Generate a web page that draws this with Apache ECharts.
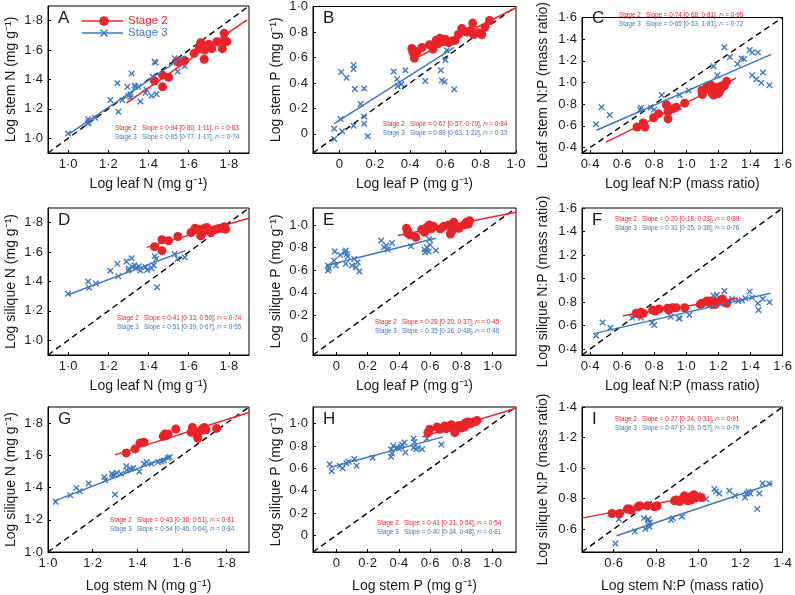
<!DOCTYPE html>
<html><head><meta charset="utf-8">
<script src="https://cdn.jsdelivr.net/npm/echarts@6/dist/echarts.min.js"></script>
<style>html,body{margin:0;padding:0;background:#fff}#c{width:795px;height:595px}</style>
</head><body><div id="c"></div><script>
// ---------- data ----------
const A2 = [[1.43,1.39],[1.47,1.43],[1.47,1.35],[1.50,1.415],[1.545,1.52],[1.58,1.53],[1.627,1.578],[1.652,1.61],[1.66,1.65],[1.665,1.635],[1.673,1.625],[1.68,1.60],[1.695,1.62],[1.70,1.64],[1.715,1.61],[1.677,1.538],[1.74,1.657],[1.767,1.61],[1.777,1.714],[1.777,1.658],[1.79,1.658],[1.66,1.62],[1.69,1.63],[1.655,1.625]];
const A3 = [[1.0,1.032],[1.10,1.13],[1.10,1.11],[1.10,1.10],[1.135,1.14],[1.21,1.26],[1.245,1.375],[1.25,1.18],[1.295,1.35],[1.30,1.29],[1.31,1.30],[1.31,1.28],[1.316,1.44],[1.33,1.36],[1.335,1.35],[1.35,1.35],[1.36,1.25],[1.385,1.31],[1.39,1.33],[1.415,1.29],[1.43,1.52],[1.435,1.515],[1.44,1.30],[1.42,1.42],[1.53,1.545],[1.545,1.455],[1.58,1.49],[1.27,1.26]];
const A2fit = [[1.29,1.24],[1.89,1.805]];
const A3fit = [[1.0,1.025],[1.58,1.56]];

const B2 = [[0.41,0.67],[0.416,0.64],[0.424,0.595],[0.44,0.647],[0.467,0.678],[0.51,0.70],[0.53,0.665],[0.548,0.735],[0.56,0.71],[0.57,0.75],[0.585,0.724],[0.60,0.742],[0.618,0.716],[0.636,0.729],[0.655,0.735],[0.674,0.78],[0.693,0.827],[0.72,0.80],[0.74,0.81],[0.755,0.87],[0.76,0.78],[0.787,0.794],[0.806,0.78],[0.825,0.838],[0.85,0.89]];
const B3 = [[-0.03,-0.04],[-0.03,0.04],[0.006,0.116],[0.01,0.485],[0.015,0.02],[0.04,0.44],[0.08,0.54],[0.08,0.51],[0.087,0.353],[0.08,0.064],[0.12,0.235],[0.14,0.137],[0.14,0.356],[0.14,0.08],[0.16,-0.018],[0.307,0.49],[0.326,0.43],[0.33,0.374],[0.35,0.39],[0.373,0.50],[0.486,0.415],[0.574,0.50],[0.58,0.42],[0.595,0.41],[0.60,0.58],[0.608,0.657],[0.65,0.35]];
const B2fit = [[0.41,0.58],[1.0,0.99]];
const B3fit = [[-0.03,0.08],[0.65,0.68]];

const C2 = [[0.693,0.59],[0.732,0.627],[0.742,0.59],[0.796,0.675],[0.827,0.711],[0.876,0.795],[0.886,0.73],[0.886,0.666],[0.919,0.759],[0.937,0.773],[0.99,0.81],[1.097,0.927],[1.10,0.89],[1.128,0.955],[1.138,0.97],[1.149,0.941],[1.155,0.975],[1.159,0.907],[1.169,0.885],[1.175,0.927],[1.19,0.955],[1.20,0.899],[1.21,0.927],[1.22,0.969],[1.237,0.969],[1.251,1.011]];
const C3 = [[0.437,0.616],[0.472,0.773],[0.523,0.70],[0.712,0.75],[0.718,0.767],[0.724,0.627],[0.78,0.767],[0.80,0.75],[0.847,0.885],[0.954,0.773],[0.958,0.885],[1.015,0.927],[1.169,1.151],[1.194,1.067],[1.237,1.325],[1.272,1.235],[1.319,1.171],[1.344,1.222],[1.36,1.216],[1.395,1.30],[1.41,1.278],[1.446,1.278],[1.41,1.067],[1.436,1.03],[1.467,0.997],[1.477,1.092],[1.518,0.975]];
const C2fit = [[0.50,0.45],[1.31,1.04]];
const C3fit = [[0.44,0.56],[1.53,1.26]];

const D2 = [[1.43,1.637],[1.467,1.684],[1.467,1.61],[1.50,1.677],[1.546,1.706],[1.612,1.733],[1.632,1.762],[1.653,1.755],[1.66,1.74],[1.668,1.73],[1.678,1.76],[1.69,1.767],[1.698,1.747],[1.711,1.733],[1.723,1.751],[1.739,1.756],[1.752,1.76],[1.767,1.762],[1.777,1.773],[1.784,1.756],[1.66,1.71],[1.665,1.745]];
const D3 = [[1.0,1.316],[1.10,1.40],[1.105,1.357],[1.138,1.386],[1.21,1.473],[1.245,1.52],[1.25,1.435],[1.29,1.536],[1.30,1.475],[1.303,1.487],[1.316,1.558],[1.32,1.50],[1.33,1.51],[1.336,1.49],[1.352,1.504],[1.36,1.475],[1.385,1.498],[1.393,1.478],[1.415,1.49],[1.426,1.51],[1.431,1.572],[1.438,1.554],[1.443,1.361],[1.53,1.587],[1.545,1.554],[1.58,1.565]];
const D2fit = [[1.39,1.632],[1.9,1.83]];
const D3fit = [[1.0,1.31],[1.583,1.61]];

const E2 = [[0.449,0.97],[0.456,0.95],[0.456,0.929],[0.47,0.912],[0.508,0.891],[0.546,0.959],[0.564,0.935],[0.579,0.979],[0.594,1.0],[0.607,0.965],[0.622,0.988],[0.665,0.965],[0.687,0.988],[0.719,1.0],[0.73,0.92],[0.741,0.95],[0.752,1.024],[0.762,0.988],[0.784,0.97],[0.816,1.0],[0.832,1.024],[0.845,1.009],[0.853,1.038],[0.735,0.935]];
const E3 = [[-0.054,0.597],[-0.054,0.641],[-0.048,0.618],[-0.015,0.685],[-0.011,0.765],[-0.004,0.641],[0.024,0.735],[0.054,0.759],[0.06,0.774],[0.067,0.744],[0.06,0.656],[0.071,0.72],[0.10,0.641],[0.114,0.70],[0.125,0.626],[0.136,0.67],[0.147,0.588],[0.287,0.862],[0.305,0.803],[0.32,0.818],[0.33,0.782],[0.356,0.841],[0.477,0.812],[0.564,0.782],[0.568,0.759],[0.579,0.803],[0.59,0.765],[0.594,0.876],[0.60,0.824],[0.637,0.774]];
const E2fit = [[0.395,0.906],[1.15,1.112]];
const E3fit = [[-0.063,0.641],[0.637,0.882]];

const F2 = [[0.687,0.704],[0.708,0.696],[0.718,0.713],[0.732,0.704],[0.79,0.733],[0.806,0.724],[0.83,0.741],[0.882,0.747],[0.892,0.733],[0.913,0.752],[0.937,0.752],[0.99,0.752],[1.087,0.781],[1.097,0.79],[1.128,0.81],[1.138,0.798],[1.149,0.81],[1.16,0.78],[1.17,0.80],[1.18,0.78],[1.19,0.798],[1.21,0.81],[1.225,0.826],[1.237,0.798],[1.251,0.79]];
const F3 = [[0.437,0.514],[0.478,0.627],[0.527,0.582],[0.663,0.667],[0.718,0.667],[0.786,0.627],[0.80,0.605],[0.903,0.676],[0.954,0.662],[0.958,0.66],[1.019,0.69],[1.169,0.855],[1.19,0.86],[1.237,0.895],[1.26,0.81],[1.286,0.826],[1.323,0.81],[1.347,0.815],[1.368,0.832],[1.395,0.889],[1.41,0.838],[1.446,0.79],[1.45,0.733],[1.477,0.826],[1.518,0.798]];
const F2fit = [[0.605,0.684],[1.323,0.832]];
const F3fit = [[0.431,0.534],[1.524,0.875]];

const G2 = [[1.35,1.615],[1.39,1.64],[1.412,1.677],[1.43,1.681],[1.516,1.718],[1.523,1.732],[1.53,1.722],[1.538,1.732],[1.572,1.763],[1.641,1.743],[1.647,1.773],[1.652,1.753],[1.667,1.726],[1.671,1.706],[1.679,1.747],[1.69,1.763],[1.70,1.773],[1.708,1.759],[1.755,1.767]];
const G3 = [[1.034,1.312],[1.10,1.353],[1.127,1.398],[1.142,1.377],[1.182,1.425],[1.252,1.466],[1.256,1.445],[1.286,1.486],[1.29,1.476],[1.30,1.48],[1.308,1.492],[1.30,1.357],[1.327,1.486],[1.35,1.533],[1.353,1.507],[1.37,1.517],[1.382,1.521],[1.409,1.50],[1.43,1.548],[1.441,1.558],[1.464,1.548],[1.493,1.558],[1.508,1.562],[1.519,1.568],[1.538,1.583],[1.545,1.589]];
const G2fit = [[1.30,1.603],[1.9,1.866]];
const G3fit = [[1.027,1.316],[1.553,1.599]];

const H2 = [[0.586,0.92],[0.597,0.95],[0.644,0.97],[0.661,0.95],[0.678,0.96],[0.693,0.98],[0.704,0.956],[0.715,0.976],[0.736,0.991],[0.747,0.956],[0.758,0.92],[0.768,0.97],[0.785,0.985],[0.80,0.962],[0.815,0.991],[0.828,1.009],[0.843,1.015],[0.858,1.0],[0.876,1.015],[0.893,1.021],[0.901,1.03],[0.82,0.97]];
const H3 = [[-0.043,0.636],[-0.03,0.577],[0.021,0.624],[0.039,0.60],[0.064,0.645],[0.077,0.66],[0.114,0.683],[0.129,0.624],[0.232,0.695],[0.35,0.772],[0.35,0.704],[0.356,0.734],[0.365,0.802],[0.386,0.784],[0.40,0.778],[0.414,0.793],[0.42,0.814],[0.436,0.831],[0.442,0.743],[0.494,0.867],[0.50,0.837],[0.494,0.784],[0.511,0.772],[0.521,0.784],[0.549,0.772],[0.579,0.867],[0.672,0.814]];
const H2fit = [[0.549,0.882],[1.15,1.139]];
const H3fit = [[-0.043,0.607],[0.682,0.882]];

const I2 = [[0.592,0.702],[0.628,0.702],[0.665,0.731],[0.676,0.731],[0.683,0.724],[0.715,0.746],[0.723,0.753],[0.759,0.753],[0.794,0.746],[0.806,0.753],[0.888,0.785],[0.896,0.79],[0.912,0.781],[0.923,0.796],[0.935,0.818],[0.943,0.803],[0.951,0.785],[0.959,0.811],[0.967,0.79],[0.98,0.825],[0.986,0.803],[1.014,0.807]];
const I3 = [[0.608,0.506],[0.624,0.665],[0.70,0.585],[0.743,0.672],[0.75,0.60],[0.762,0.659],[0.765,0.665],[0.765,0.628],[0.77,0.615],[0.772,0.644],[0.872,0.659],[0.88,0.672],[0.923,0.681],[0.98,0.796],[0.998,0.825],[1.038,0.796],[1.077,0.862],[1.085,0.846],[1.10,0.833],[1.148,0.851],[1.175,0.818],[1.222,0.807],[1.231,0.833],[1.238,0.846],[1.247,0.833],[1.29,0.833],[1.28,0.731],[1.305,0.899],[1.337,0.899]];
const I2fit = [[0.45,0.672],[1.03,0.829]];
const I3fit = [[0.613,0.556],[1.353,0.899]];

// tick label sets
const ticksN = [1.0,1.2,1.4,1.6,1.8];
const ticksP = [0,0.2,0.4,0.6,0.8,1.0];
const ticksNP = [0.4,0.6,0.8,1.0,1.2,1.4,1.6];
const ticksNPs = [0.6,0.8,1.0,1.2,1.4];

// annotation texts
const statsA = ['0·94 [0·80, 1·11]','0·83','0·95 [0·77, 1·17]','0·74'];
const statsB = ['0·67 [0·57, 0·79]','0·84','0·88 [0·63, 1·22]','0·33'];
const statsC = ['0·74 [0·68, 0·81]','0·95','0·65 [0·53, 1·81]','0·72'];
const statsD = ['0·41 [0·33, 0·50]','0·74','0·51 [0·39, 0·67]','0·55'];
const statsE = ['0·28 [0·20, 0·37]','0·45','0·35 [0·26, 0·48]','0·46'];
const statsF = ['0·20 [0·18, 0·23]','0·89','0·31 [0·25, 0·38]','0·76'];
const statsG = ['0·43 [0·36, 0·51]','0·81','0·54 [0·46, 0·64]','0·84'];
const statsH = ['0·41 [0·31, 0·54]','0·54','0·40 [0·34, 0·48]','0·81'];
const statsI = ['0·27 [0·24, 0·31]','0·91','0·47 [0·39, 0·57]','0·79'];

const legendNames = ['Stage 2','Stage 3'];

// ---------- layout / style ----------
const RED = '#e8242b', BLUE = '#3f78bd', TXT = '#1a1a1a';
const FONT = '"Liberation Sans", Arial, Helvetica, sans-serif';
const colLeft = [48, 313, 582], colW = [201, 203, 201];
const rowTop = [6, 208, 407], rowH = [147, 147, 145];
const xNameGap = [24, 24, 27], yNameGap = [30, 30, 32];
const SUP = ' (mg g\u207B\u00B9)';

const panels = [
 {L:'A',s2:A2,s3:A3,f2:A2fit,f3:A3fit,r:[0.9,1.9],xt:ticksN,yt:ticksN,xn:'Log leaf N'+SUP,yn:'Log stem N'+SUP,st:statsA,ap:[115,128]},
 {L:'B',s2:B2,s3:B3,f2:B2fit,f3:B3fit,r:[-0.15,1.0],xt:ticksP,yt:ticksP,xn:'Log leaf P'+SUP,yn:'Log stem P'+SUP,st:statsB,ap:[383,124]},
 {L:'C',s2:C2,s3:C3,f2:C2fit,f3:C3fit,r:[0.35,1.6],xt:ticksNP,yt:ticksNP,xn:'Log leaf N:P (mass ratio)',yn:'Leaf stem N:P (mass ratio)',st:statsC,ap:[619,15]},
 {L:'D',s2:D2,s3:D3,f2:D2fit,f3:D3fit,r:[0.9,1.9],xt:ticksN,yt:ticksN,xn:'Log leaf N'+SUP,yn:'Log silique N'+SUP,st:statsD,ap:[117,318]},
 {L:'E',s2:E2,s3:E3,f2:E2fit,f3:E3fit,r:[-0.15,1.15],xt:ticksP,yt:ticksP,xn:'Log leaf P'+SUP,yn:'Log silique P'+SUP,st:statsE,ap:[375,322]},
 {L:'F',s2:F2,s3:F3,f2:F2fit,f3:F3fit,r:[0.35,1.6],xt:ticksNP,yt:ticksNP,xn:'Log leaf N:P (mass ratio)',yn:'Log silique N:P (mass ratio)',st:statsF,ap:[615,219]},
 {L:'G',s2:G2,s3:G3,f2:G2fit,f3:G3fit,r:[1.0,1.9],xt:ticksN,yt:ticksN,xn:'Log stem N'+SUP,yn:'Log silique N'+SUP,st:statsG,ap:[110,520]},
 {L:'H',s2:H2,s3:H3,f2:H2fit,f3:H3fit,r:[-0.15,1.15],xt:ticksP,yt:ticksP,xn:'Log stem P'+SUP,yn:'Log silique P'+SUP,st:statsH,ap:[377,523]},
 {L:'I',s2:I2,s3:I3,f2:I2fit,f3:I3fit,r:[0.45,1.4],xt:ticksNPs,yt:ticksNPs,xn:'Log stem N:P (mass ratio)',yn:'Log silique N:P (mass ratio)',st:statsI,ap:[615,419]}
];

const fmt = v => Math.abs(v) < 1e-9 ? '0' : v.toFixed(1).replace('.', '\u00B7');
const CROSS = 'path://M0,1.5L1.5,0L5,3.5L8.5,0L10,1.5L6.5,5L10,8.5L8.5,10L5,6.5L1.5,10L0,8.5L3.5,5Z';

const grid = [], xAxis = [], yAxis = [], series = [], graphic = [];
function axisCfg(i, range, ticks, name, gap) {
  return {
    gridIndex: i, type: 'value', min: range[0], max: range[1],
    axisLine: {show: true, onZero: false, lineStyle: {color: '#000', width: 1}},
    axisTick: {show: true, inside: true, length: 3, customValues: ticks, lineStyle: {color: '#000'}},
    axisLabel: {customValues: ticks, formatter: fmt, color: TXT, fontSize: 13, fontFamily: FONT, margin: 5},
    splitLine: {show: false},
    name: name, nameLocation: 'middle', nameGap: gap,
    nameTextStyle: {fontSize: 14, color: TXT, fontFamily: FONT}
  };
}
panels.forEach((p, i) => {
  const c = i % 3, r = Math.floor(i / 3);
  grid.push({left: colLeft[c], top: rowTop[r], width: colW[c], height: rowH[r], show: true, borderColor: '#000', borderWidth: 1, backgroundColor: 'transparent'});
  xAxis.push(axisCfg(i, p.r, p.xt, p.xn, xNameGap[r]));
  yAxis.push(axisCfg(i, p.r, p.yt, p.yn, yNameGap[c]));
  series.push({type: 'line', xAxisIndex: i, yAxisIndex: i, data: [[p.r[0], p.r[0]], [p.r[1], p.r[1]]], symbol: 'none', silent: true, z: 1,
    lineStyle: {color: '#000', width: 1.4, type: [6, 4]}});
  series.push({type: 'scatter', xAxisIndex: i, yAxisIndex: i, data: p.s3, symbol: CROSS, symbolSize: 6.5, silent: true, z: 2,
    itemStyle: {color: BLUE, opacity: 1}});
  series.push({type: 'scatter', xAxisIndex: i, yAxisIndex: i, data: p.s2, symbol: 'circle', symbolSize: 9, silent: true, z: 3,
    itemStyle: {color: RED, opacity: 1}});
  series.push({type: 'line', xAxisIndex: i, yAxisIndex: i, data: p.f3, symbol: 'none', silent: true, z: 4, lineStyle: {color: BLUE, width: 1.5}});
  series.push({type: 'line', xAxisIndex: i, yAxisIndex: i, data: p.f2, symbol: 'none', silent: true, z: 4, lineStyle: {color: RED, width: 1.5}});
  graphic.push({type: 'text', x: colLeft[c] + 10, y: rowTop[r] + 4, z: 10,
    style: {text: p.L, fill: TXT, fontSize: 17, fontFamily: FONT}});
  [[RED, 0], [BLUE, 1]].forEach(([col, k]) => {
    const fs = 6.3;
    graphic.push({type: 'text', x: p.ap[0], y: p.ap[1] + k * 9, z: 10,
      style: {text: legendNames[k] + '   Slope = ' + p.st[k * 2] + ', {i|r}\u00B2 = ' + p.st[k * 2 + 1],
        fill: col, fontSize: fs, fontFamily: FONT, verticalAlign: 'middle',
        rich: {i: {fontStyle: 'italic', fill: col, fontSize: fs, fontFamily: FONT}}}});
  });
});
// legend in panel A
[[RED, 21, 'circle'], [BLUE, 33, 'cross']].forEach(([col, y, m], k) => {
  graphic.push({type: 'line', z: 10, shape: {x1: 82, y1: y, x2: 123, y2: y}, style: {stroke: col, lineWidth: 1.5}});
  if (m === 'circle') {
    graphic.push({type: 'circle', z: 11, shape: {cx: 104, cy: y, r: 4.8}, style: {fill: col}});
  } else {
    graphic.push({type: 'polyline', z: 11, shape: {points: [[100.5, y - 3.5], [107.5, y + 3.5]]}, style: {stroke: col, lineWidth: 1.5}});
    graphic.push({type: 'polyline', z: 11, shape: {points: [[100.5, y + 3.5], [107.5, y - 3.5]]}, style: {stroke: col, lineWidth: 1.5}});
  }
  graphic.push({type: 'text', x: 128, y: y, z: 10, style: {text: legendNames[k], fill: col, fontSize: 11.5, fontFamily: FONT, verticalAlign: 'middle'}});
});

const chart = echarts.init(document.getElementById('c'), null, {renderer: 'canvas'});
chart.setOption({animation: false, backgroundColor: '#fff', grid, xAxis, yAxis, series, graphic});
</script></body></html>
